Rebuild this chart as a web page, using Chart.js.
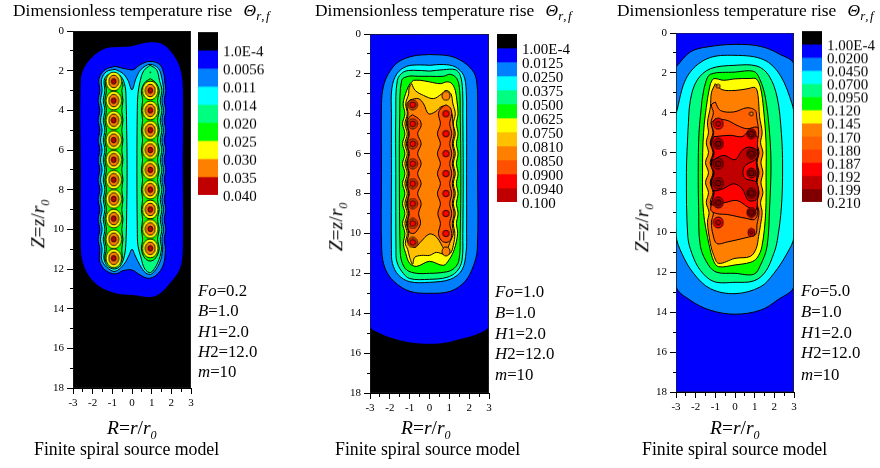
<!DOCTYPE html>
<html>
<head>
<meta charset="utf-8">
<script src="https://cdn.jsdelivr.net/npm/chart.js@4"></script>
<style>
body { margin: 0; background: #fff; width: 880px; height: 468px; overflow: hidden; }
canvas { position: absolute; }
.t { position: absolute; font-family: "Liberation Serif", serif; color: #000; white-space: nowrap; line-height: 1; }
.t sub { font-size: 62%; line-height: 0; }
</style>
</head>
<body>
<script>
// ---- legend cells and labels
var fo02Cells = ["#000000","#0000ff","#0080ff","#00ffff","#00ff80","#00ff00","#ffff00","#ff8000","#c00000"];
var fo02Labels = ["1.0E-4","0.0056","0.011","0.014","0.020","0.025","0.030","0.035","0.040"];
var fo1Cells = ["#000000","#0000ff","#0080ff","#00ffff","#00ff80","#00ff00","#ffff00","#ffc000","#ff8000","#ff5000","#ff0000","#c00000"];
var fo1Labels = ["1.00E-4","0.0125","0.0250","0.0375","0.0500","0.0625","0.0750","0.0810","0.0850","0.0900","0.0940","0.100"];
var fo5Cells = ["#000000","#0000ff","#0080ff","#00ffff","#00ff80","#00ff00","#ffff00","#ff8000","#ff6000","#ff4000","#ff0000","#c00000","#800000"];
var fo5Labels = ["1.00E-4","0.0200","0.0450","0.0700","0.0950","0.120","0.145","0.170","0.180","0.187","0.192","0.199","0.210"];

var rTicks = [-3,3];
var zTicks = [0,18];
var wholeField = [[-3,0],[3,0],[3,18],[-3,18]];

// ---- Fo=0.2 contours, [R, Z]
var fo02Blue = [[0,.77],[.92,.57],[1.6,.69],[2.1,1.2],[2.44,1.87],[2.58,2.8],[2.58,7],[2.58,11.04],[2.44,11.97],[1.93,12.72],[1.42,13.23],[.92,13.41],[.07,13.31],[-.78,13.23],[-1.63,12.89],[-2.22,12.3],[-2.53,11.55],[-2.6,10.87],[-2.6,7],[-2.6,2.45],[-2.39,1.78],[-1.88,1.19],[-1.29,.86],[-.61,.81]];
var fo02Sky = [[-.86,1.78],[-.27,1.92],[.07,1.95],[.41,1.7],[.92,1.53],[1.42,1.7],[1.63,2.2],[1.66,2.5],[1.72,3],[1.64,3.5],[1.72,4],[1.64,4.5],[1.72,5],[1.64,5.5],[1.72,6],[1.64,6.5],[1.72,7],[1.64,7.5],[1.72,8],[1.64,8.5],[1.72,9],[1.64,9.5],[1.72,10],[1.64,10.5],[1.7,11],[1.59,11.8],[1.25,12.3],[.83,12.47],[.41,12.3],[0,12.05],[-.44,12.08],[-.86,12.25],[-1.37,12.05],[-1.65,11.6],[-1.64,11],[-1.72,10.5],[-1.64,10],[-1.72,9.5],[-1.64,9],[-1.72,8.5],[-1.64,8],[-1.72,7.5],[-1.64,7],[-1.72,6.5],[-1.64,6],[-1.72,5.5],[-1.64,5],[-1.72,4.5],[-1.64,4],[-1.72,3.5],[-1.64,3],[-1.68,2.4],[-1.37,1.95]];
var fo02Cyan = [[-.86,1.93],[-.45,2.15],[-.2,2.5],[0,2.97],[.2,2.4],[.45,1.95],[.92,1.68],[1.35,1.9],[1.52,2.4],[1.6,3],[1.52,3.5],[1.6,4],[1.52,4.5],[1.6,5],[1.52,5.5],[1.6,6],[1.52,6.5],[1.6,7],[1.52,7.5],[1.6,8],[1.52,8.5],[1.6,9],[1.52,9.5],[1.6,10],[1.52,10.5],[1.56,11],[1.4,11.7],[1,12.25],[.7,12.2],[.4,11.8],[.15,11.3],[0,11],[-.15,11.3],[-.4,11.75],[-.86,12.12],[-1.3,11.9],[-1.55,11.5],[-1.52,11],[-1.6,10.5],[-1.52,10],[-1.6,9.5],[-1.52,9],[-1.6,8.5],[-1.52,8],[-1.6,7.5],[-1.52,7],[-1.6,6.5],[-1.52,6],[-1.6,5.5],[-1.52,5],[-1.6,4.5],[-1.52,4],[-1.6,3.5],[-1.52,3],[-1.55,2.45],[-1.3,2.05]];
var fo02SpringL = [[-.9,2.12],[-.55,2.3],[-.35,2.8],[-.3,3.5],[-.27,5],[-.25,7],[-.27,9],[-.3,10.5],[-.38,11.3],[-.6,11.85],[-.9,12],[-1.25,11.85],[-1.43,11.45],[-1.38,11],[-1.46,10.5],[-1.38,10],[-1.46,9.5],[-1.38,9],[-1.46,8.5],[-1.38,8],[-1.46,7.5],[-1.38,7],[-1.46,6.5],[-1.38,6],[-1.46,5.5],[-1.38,5],[-1.46,4.5],[-1.38,4],[-1.46,3.5],[-1.38,3],[-1.42,2.5],[-1.25,2.22]];
var fo02SpringR = [[.92,1.73],[1.25,1.95],[1.4,2.5],[1.52,3],[1.44,3.5],[1.52,4],[1.44,4.5],[1.52,5],[1.44,5.5],[1.52,6],[1.44,6.5],[1.52,7],[1.44,7.5],[1.52,8],[1.44,8.5],[1.52,9],[1.44,9.5],[1.52,10],[1.44,10.5],[1.5,11],[1.3,11.7],[.95,12.18],[.65,12],[.45,11.4],[.3,10.8],[.27,10],[.25,7],[.27,4],[.3,3.2],[.42,2.5],[.6,2]];
var fo02GreenL = [[-.93,2.18],[-.65,2.35],[-.46,2.7],[-.52,3],[-.46,3.5],[-.52,4],[-.46,4.5],[-.52,5],[-.46,5.5],[-.52,6],[-.46,6.5],[-.52,7],[-.46,7.5],[-.52,8],[-.46,8.5],[-.52,9],[-.46,9.5],[-.52,10],[-.46,10.5],[-.52,11],[-.5,11.45],[-.65,11.75],[-.93,11.88],[-1.2,11.75],[-1.38,11.45],[-1.3,11],[-1.38,10.5],[-1.3,10],[-1.38,9.5],[-1.3,9],[-1.38,8.5],[-1.3,8],[-1.38,7.5],[-1.3,7],[-1.38,6.5],[-1.3,6],[-1.38,5.5],[-1.3,5],[-1.38,4.5],[-1.3,4],[-1.38,3.5],[-1.3,3],[-1.36,2.55],[-1.2,2.3]];
var fo02GreenR = [[.93,2.4],[1.2,2.6],[1.38,3],[1.3,3.5],[1.38,4],[1.3,4.5],[1.38,5],[1.3,5.5],[1.38,6],[1.3,6.5],[1.38,7],[1.3,7.5],[1.38,8],[1.3,8.5],[1.38,9],[1.3,9.5],[1.38,10],[1.3,10.5],[1.38,11],[1.2,11.45],[.93,11.6],[.65,11.45],[.48,11],[.54,10.5],[.48,10],[.54,9.5],[.48,9],[.54,8.5],[.48,8],[.54,7.5],[.48,7],[.54,6.5],[.48,6],[.54,5.5],[.48,5],[.54,4.5],[.48,4],[.54,3.5],[.48,3],[.65,2.6]];
var fo02SourcesL = [[-.93,2.54],[-.93,3.51],[-.93,4.5],[-.93,5.5],[-.93,6.49],[-.93,7.5],[-.93,8.47],[-.93,9.46],[-.93,10.5],[-.93,11.46]];
var fo02SourcesR = [[.93,3],[.93,4],[.93,5],[.93,6],[.93,7],[.93,8],[.93,9],[.93,9.98],[.93,10.96]];
var fo02Dots = [[.93,2.08]];

// ---- Fo=1.0 contours
var fo1Blue = [[-3,.03],[3,.03],[3,14.6],[2.5,15],[1.5,15.3],[.6,15.5],[-.6,15.5],[-1.5,15.35],[-2.5,15],[-3,14.6]];
var fo1Sky = [[0,1.03],[1,1.1],[1.7,1.4],[2.25,1.95],[2.4,2.6],[2.43,3.5],[2.43,7],[2.41,10.8],[2.2,11.66],[1.8,12.4],[1.05,12.9],[0,13],[-1,12.9],[-1.8,12.4],[-2.24,11.75],[-2.41,10.8],[-2.42,7],[-2.42,3.5],[-2.33,2.66],[-2.07,1.99],[-1.57,1.4],[-.8,1.1]];
var fo1Cyan = [[0,1.57],[.7,1.53],[1.3,1.65],[1.72,2.07],[1.85,2.83],[1.87,4],[1.87,7],[1.87,10],[1.85,10.9],[1.64,11.83],[1.05,12.3],[0,12.45],[-1,12.42],[-1.57,12.08],[-1.87,11.5],[-1.92,10.8],[-1.92,7],[-1.92,4],[-1.9,2.74],[-1.65,2],[-1.15,1.62],[-.5,1.55]];
var fo1Spring = [[0,1.86],[.7,1.79],[1.3,1.79],[1.55,2.07],[1.67,2.83],[1.68,4],[1.7,7],[1.68,10],[1.64,11.35],[1.38,11.9],[.88,12.2],[0,12.3],[-1,12.26],[-1.4,11.9],[-1.65,11.4],[-1.69,10.8],[-1.7,7],[-1.7,4],[-1.62,2.32],[-1.3,1.9],[-.8,1.82]];
var fo1Green = [[0,2.12],[.7,2.12],[1.05,2.02],[1.38,2.24],[1.52,2.83],[1.55,4],[1.58,7],[1.55,10],[1.47,11.4],[1.13,11.83],[.54,11.97],[0,12],[-.64,12],[-1.15,11.83],[-1.4,11.4],[-1.48,10.8],[-1.52,7],[-1.5,4],[-1.4,2.32],[-1.06,2.12],[-.56,2.12]];
var fo1Yellow = [[-.8,2.32],[-.47,2.32],[0,2.4],[.54,2.49],[.88,2.4],[1.13,2.49],[1.3,2.83],[1.38,3.33],[1.44,4],[1.36,4.5],[1.44,5],[1.36,5.5],[1.44,6],[1.36,6.5],[1.44,7],[1.36,7.5],[1.44,8],[1.36,8.5],[1.44,9],[1.36,9.5],[1.42,10],[1.25,10.8],[1,11.3],[.7,11.6],[0,11.4],[-.65,11.65],[-1,11.5],[-1.2,11],[-1.32,10.5],[-1.24,10],[-1.36,9.5],[-1.24,9],[-1.36,8.5],[-1.24,8],[-1.36,7.5],[-1.24,7],[-1.36,6.5],[-1.24,6],[-1.36,5.5],[-1.24,5],[-1.36,4.5],[-1.24,4],[-1.33,3.5],[-1.15,2.83],[-.98,2.49]];
var fo1Amber = [[-.9,2.49],[-.72,2.83],[-.3,3.08],[.2,3.24],[.62,3],[.84,2.83],[1.08,3],[1.18,3.5],[1.3,4],[1.2,4.5],[1.3,5],[1.2,5.5],[1.3,6],[1.2,6.5],[1.3,7],[1.2,7.5],[1.3,8],[1.2,8.5],[1.3,9],[1.2,9.5],[1.28,10],[1.2,10.6],[1.05,11],[.75,11.05],[.35,10.95],[0,11.1],[-.4,11.1],[-.75,11.2],[-.85,11.55],[-1,11.2],[-1.1,10.8],[-1.22,10.5],[-1.12,10],[-1.24,9.5],[-1.12,9],[-1.24,8.5],[-1.12,8],[-1.24,7.5],[-1.12,7],[-1.24,6.5],[-1.12,6],[-1.24,5.5],[-1.12,5],[-1.24,4.5],[-1.12,4],[-1.2,3.5],[-1.05,3],[-1.03,2.7]];
var fo1Orange = [[-.98,3.3],[-.56,3.24],[-.3,3.5],[-.05,4],[.29,3.9],[.62,3.63],[.88,3.66],[1.13,4],[1.18,4.5],[1.24,5],[1.15,5.5],[1.24,6],[1.15,6.5],[1.24,7],[1.15,7.5],[1.24,8],[1.15,8.5],[1.24,9],[1.15,9.5],[1.2,10],[1.05,10.4],[.88,10.8],[.75,10.8],[.37,10.2],[0,10.03],[-.47,10.45],[-.72,10.7],[-.95,10.6],[-1.12,10.4],[-1.05,10],[-1.16,9.5],[-1.05,9],[-1.16,8.5],[-1.05,8],[-1.16,7.5],[-1.05,7],[-1.16,6.5],[-1.05,6],[-1.16,5.5],[-1.05,5],[-1.16,4.5],[-1.08,4],[-1.14,3.5]];
var fo1DeepL = [[-.85,4.05],[-.5,4.3],[-.42,4.6],[-.6,5],[-.42,5.5],[-.6,6],[-.42,6.5],[-.6,7],[-.42,7.5],[-.6,8],[-.42,8.5],[-.55,9],[-.45,9.5],[-.7,9.95],[-.85,10],[-1,9.95],[-1.12,9.5],[-1.02,9],[-1.12,8.5],[-1.02,8],[-1.12,7.5],[-1.02,7],[-1.12,6.5],[-1.02,6],[-1.12,5.5],[-1.02,5],[-1.12,4.5],[-1.05,4.2]];
var fo1DeepR = [[.83,3.55],[.6,3.7],[.45,4],[.55,4.5],[.4,5],[.55,5.5],[.4,6],[.55,6.5],[.4,7],[.55,7.5],[.4,8],[.55,8.5],[.42,9],[.55,9.5],[.45,10],[.6,10.35],[.83,10.45],[1.05,10.35],[1.12,10],[1.02,9.5],[1.12,9],[1.02,8.5],[1.12,8],[1.02,7.5],[1.12,7],[1.02,6.5],[1.12,6],[1.02,5.5],[1.12,5],[1.02,4.5],[1.12,4],[1.05,3.7]];
var fo1SourcesL = [[-.85,3.55],[-.85,4.5],[-.85,5.5],[-.85,6.5],[-.85,7.5],[-.85,8.5],[-.85,9.5],[-.85,10.45]];
var fo1SourcesR = [[.83,4],[.83,5],[.83,6],[.83,7],[.83,8],[.83,9],[.83,10]];
var fo1Small = [[.83,3.1],[.83,10.9]];

// ---- Fo=5.0 contours
var fo5Sky = [[-3,1.7],[-2.27,.95],[-1.42,.7],[0,.57],[1.29,.67],[2.22,1.04],[3,1.62],[3,12.65],[2.14,13.4],[1.29,13.9],[0,14.1],[-1.25,13.9],[-2.27,13.4],[-3,12.65]];
var fo5Cyan = [[-3,4.05],[-2.44,2.2],[-1.42,1.29],[0,1.12],[1.46,1.34],[2.3,2.12],[2.9,3.55],[3,4.13],[3.05,7],[3,10.22],[2.64,11.06],[1.97,12.06],[1.29,12.73],[0,13.07],[-1.25,12.82],[-2.1,12.06],[-2.7,11.06],[-3,10.14],[-3.05,7]];
var fo5Spring = [[-2.39,4.88],[-2.27,3.38],[-1.93,2.37],[-1.25,1.79],[0,1.62],[1.12,1.66],[1.71,2.12],[2.14,3.21],[2.36,5.05],[2.42,6.72],[2.36,8.73],[2.15,10.4],[1.97,11.06],[1.54,11.98],[.95,12.43],[0,12.5],[-1.08,12.46],[-1.76,11.9],[-2.19,11.06],[-2.4,10.2],[-2.47,7]];
var fo5Green = [[-1.68,3.38],[-1.51,2.54],[-1.25,2.07],[0,1.96],[.95,1.92],[1.25,2.29],[1.54,3.21],[1.76,5.05],[1.83,6.72],[1.76,8.73],[1.63,10.7],[1.29,11.65],[.95,12.1],[0,12.05],[-.92,12],[-1.34,11.65],[-1.76,10.7],[-1.85,8.7],[-1.87,7],[-1.83,5]];
var fo5Yellow = [[-1.25,2.54],[-1.08,2.29],[-.58,2.37],[0,2.3],[.78,2.28],[1.08,2.3],[1.3,2.75],[1.45,3.8],[1.58,5.5],[1.58,7],[1.56,9],[1.37,10.7],[1.12,11.28],[.78,11.5],[0,11.63],[-.83,11.72],[-1.08,11.45],[-1.32,10.6],[-1.6,9],[-1.65,7],[-1.6,5],[-1.4,3.3]];
var fo5Orange = [[-1,2.54],[-.66,2.84],[0,2.88],[.61,2.8],[1.03,2.74],[1.17,3.13],[1.25,4.2],[1.38,5],[1.3,5.5],[1.42,6],[1.32,6.5],[1.42,7],[1.32,7.5],[1.42,8],[1.3,8.5],[1.38,9],[1.3,9.6],[1.2,10.2],[1.08,10.8],[.78,11.2],[0,11.3],[-.83,11.55],[-1.08,11.15],[-1.25,10.56],[-1.4,9.5],[-1.32,9],[-1.46,8.5],[-1.35,8],[-1.5,7.5],[-1.35,7],[-1.5,6.5],[-1.35,6],[-1.46,5.5],[-1.35,5],[-1.4,4.5],[-1.25,3.7],[-1.2,3]];
var fo5Dark1 = [[-1,3.46],[-.75,3.88],[-.07,3.96],[.61,3.75],[1.03,3.88],[1.1,4.2],[1.2,5],[1.12,5.5],[1.22,6],[1.12,6.5],[1.22,7],[1.12,7.5],[1.22,8],[1.12,8.5],[1.22,9],[1.12,9.6],[1.05,10.1],[.61,10.25],[-.41,10.48],[-.92,10.56],[-1.12,10.1],[-1.2,9.5],[-1.1,9],[-1.26,8.5],[-1.12,8],[-1.26,7.5],[-1.12,7],[-1.26,6.5],[-1.12,6],[-1.26,5.5],[-1.12,5],[-1.22,4.5],[-1.1,4],[-1.2,3.6]];
var fo5Dark2 = [[-1,4.3],[-.4,4.38],[.1,4.63],[.6,4.8],[1.12,4.72],[1.2,5],[1.12,5.5],[1.18,6],[1.1,6.5],[1.18,7],[1.1,7.5],[1.18,8],[1.1,8.5],[1.16,9],[1,9.35],[.6,9.3],[.1,9.2],[-.4,9.1],[-.9,9.06],[-1.22,8.9],[-1.18,8.5],[-1.08,8],[-1.22,7.5],[-1.08,7],[-1.22,6.5],[-1.08,6],[-1.22,5.5],[-1.08,5],[-1.2,4.55]];
var fo5Red = [[-1.08,5.2],[-.24,5.13],[.36,5.2],[.69,4.96],[1.12,5.2],[1.14,5.6],[1.14,6],[1.08,6.5],[1.14,7],[1.08,7.5],[1.14,8],[1.14,8.5],[1.05,8.9],[.69,8.75],[.1,8.4],[-.5,8.5],[-.9,8.56],[-1.2,8.6],[-1.06,8],[-1.2,7.5],[-1.06,7],[-1.2,6.5],[-1.06,6],[-1.2,5.6]];
var fo5Crimson = [[-1.17,6.39],[-.58,6.14],[0,6.35],[.36,5.89],[.69,5.72],[1.12,5.89],[1.1,6.3],[.53,6.64],[.4,7],[.53,7.3],[1.1,7.5],[1.12,8.3],[.69,8.4],[.36,7.8],[-.07,7.56],[-.58,7.8],[-1.08,7.9],[-1.2,7.5],[-1.06,7],[-1.2,6.7]];
var fo5SourcesL = [[-.85,5.55],[-.85,6.55],[-.85,7.53],[-.85,8.5]];
var fo5SourcesR = [[.83,5.05],[.83,6.05],[.83,7.02],[.83,8.03],[.83,9]];
var fo5EndsL = [[-.85,4.55],[-.85,9.5]];
var fo5EndsR = [[.83,10]];
var fo5Small = [[-.85,2.67],[.83,4.05]];

// a little ellipse for the rings round each source
function ring(rx, ry, color) {
    var c = document.createElement("canvas");
    c.width = Math.ceil(rx * 2 + 2);
    c.height = Math.ceil(ry * 2 + 2);
    var g = c.getContext("2d");
    g.beginPath();
    g.ellipse(c.width / 2, c.height / 2, rx, ry, 0, 0, Math.PI * 2);
    g.fillStyle = color;
    g.fill();
    g.lineWidth = 0.9;
    g.strokeStyle = "#000";
    g.stroke();
    return c;
}

function toPoints(list) {
    return list.map(function (p) { return { x: p[0], y: p[1] }; });
}

function contour(list, color, noLine) {
    var pts = toPoints(list.concat([list[0]]));
    return {
        data: pts, showLine: true, fill: "shape", backgroundColor: color,
        borderColor: noLine ? color : "#000", borderWidth: noLine ? 0 : 1,
        tension: 0.35, pointRadius: 0
    };
}

function rings(list, img) {
    return { data: toPoints(list), showLine: false, pointStyle: img, pointRadius: 4 };
}

function addText(html, left, top, size, extra) {
    var d = document.createElement("div");
    d.className = "t";
    d.style.left = left + "px";
    d.style.top = top + "px";
    d.style.fontSize = size + "px";
    if (extra) d.style.transform = extra;
    d.innerHTML = html;
    document.body.appendChild(d);
}

function addCanvas(left, top, w, h) {
    var c = document.createElement("canvas");
    c.width = w; c.height = h;
    c.style.left = left + "px";
    c.style.top = top + "px";
    c.style.width = w + "px";
    c.style.height = h + "px";
    document.body.appendChild(c);
    return c;
}

function fieldChart(box, layers) {
    var w = box.right - box.left, h = box.bottom - box.top;
    var c = addCanvas(box.left - 35, box.top - 12, w + 47, h + 42);
    // first dataset is painted on top, so turn the paint order round
    var sets = layers.concat([{
        data: toPoints(wholeField.concat([wholeField[0]])), showLine: true, fill: false,
        borderColor: "#222", borderWidth: 1, pointRadius: 0
    }]).reverse();
    new Chart(c, {
        type: "scatter",
        data: { datasets: sets },
        options: {
            responsive: false, animation: false,
            layout: { autoPadding: false, padding: { left: 0, top: 12, right: 12, bottom: 0 } },
            plugins: { legend: { display: false }, tooltip: { enabled: false } },
            scales: {
                x: {
                    type: "linear", min: rTicks[0], max: rTicks[1],
                    afterFit: function (s) { s.height = 30; },
                    border: { color: "#000" },
                    grid: {
                        drawOnChartArea: false, tickLength: 6, tickColor: "#000",
                        tickBorderDash: function (ctx) { return Number.isInteger(ctx.tick.value) ? [] : [3, 3]; }
                    },
                    ticks: {
                        stepSize: 0.5, autoSkip: false, maxRotation: 0, padding: 3, color: "#000",
                        font: { family: "Liberation Serif", size: 11 },
                        callback: function (v) { return Number.isInteger(v) ? v : ""; }
                    }
                },
                y: {
                    type: "linear", min: zTicks[0], max: zTicks[1], reverse: true,
                    afterFit: function (s) { s.width = 35; },
                    border: { color: "#000" },
                    grid: {
                        drawOnChartArea: false, tickLength: 6, tickColor: "#000",
                        tickBorderDash: function (ctx) { return ctx.tick.value % 2 == 0 ? [] : [3, 3]; },
                        tickBorderDashOffset: function (ctx) { return ctx.tick.value % 2 == 0 ? 0 : 3; }
                    },
                    ticks: {
                        stepSize: 1, autoSkip: false, padding: 3, color: "#000",
                        font: { family: "Liberation Serif", size: 11 },
                        callback: function (v) { return v % 2 == 0 ? v : ""; }
                    }
                }
            }
        }
    });
}

function levelBar(left, top, bottom, cells, labels) {
    var c = addCanvas(left, top - 24, 90, bottom - top + 48);
    new Chart(c, {
        type: "bar",
        data: {
            labels: [""],
            datasets: cells.map(function (col) {
                return { data: [1], backgroundColor: col, barPercentage: 1, categoryPercentage: 1 };
            })
        },
        options: {
            responsive: false, animation: false,
            layout: { autoPadding: false, padding: { top: 24, bottom: 24, left: 0, right: 0 } },
            plugins: { legend: { display: false }, tooltip: { enabled: false } },
            scales: {
                x: { stacked: true, display: false },
                y: {
                    stacked: true, position: "right", min: 0, max: cells.length, reverse: true,
                    afterFit: function (s) { s.width = 70; },
                    border: { display: false },
                    grid: { display: false, drawTicks: false },
                    ticks: {
                        stepSize: 1, autoSkip: false, padding: 5, color: "#000", z: 1, labelOffset: 2,
                        font: { family: "Liberation Serif", size: 15 },
                        callback: function (v) { return v == 0 ? "" : labels[v - 1]; }
                    }
                }
            }
        }
    });
}

function panelText(p) {
    var th = '<i style="margin-left:7px">&Theta;</i><sub style="font-style:italic;font-size:13px;letter-spacing:1.5px">r,f</sub>';
    addText("Dimensionless temperature rise " + th, p.titleX, 2, 17.4);
    var rows = ["<i>Fo</i>=" + p.fo, "<i>B</i>=1.0", "<i>H</i>1=2.0", "<i>H</i>2=12.0", "<i>m</i>=10"];
    for (let a = 0; a < rows.length; a++) {
        addText(rows[a], p.noteX, p.noteY[a] - 8.5, 16.8);
    }
    addText('<i>R</i>=<i>r</i>/<i>r</i><sub><i>0</i></sub>', p.rX, 418, 19.5);
    addText("Finite spiral source model", p.modelX, 441, 17.8);
    addText('<i>Z</i>=<i>z</i>/<i>r</i><sub><i>0</i></sub>', p.zX, p.zY, 19.5, "translate(-50%,-50%) rotate(-90deg)");
}

// ---- panel Fo=0.2
fieldChart({ left: 73, right: 191, top: 31, bottom: 388 }, [
    contour(wholeField, fo02Cells[0], true),
    contour(fo02Blue, fo02Cells[1], true),
    contour(fo02Sky, fo02Cells[2]),
    contour(fo02Cyan, fo02Cells[3]),
    contour(fo02SpringL, fo02Cells[4]),
    contour(fo02SpringR, fo02Cells[4]),
    contour(fo02GreenL, fo02Cells[5]),
    contour(fo02GreenR, fo02Cells[5]),
    rings(fo02SourcesL, ring(7.8, 9.4, fo02Cells[6])),
    rings(fo02SourcesR, ring(7.8, 9.4, fo02Cells[6])),
    rings(fo02SourcesL, ring(5, 6.3, fo02Cells[7])),
    rings(fo02SourcesR, ring(5, 6.3, fo02Cells[7])),
    rings(fo02SourcesL, ring(2.4, 2.8, fo02Cells[8])),
    rings(fo02SourcesR, ring(2.4, 2.8, fo02Cells[8])),
    rings(fo02Dots, ring(0.4, 0.4, "#000"))
]);
levelBar(198, 32, 194.7, fo02Cells, fo02Labels);
panelText({ fo: "0.2", titleX: 13, noteX: 198, noteY: [291, 311, 332, 352, 372], rX: 107, modelX: 34, zX: 38, zY: 224 });

// ---- panel Fo=1.0
fieldChart({ left: 370, right: 489, top: 33.5, bottom: 393 }, [
    contour(wholeField, fo1Cells[0], true),
    contour(fo1Blue, fo1Cells[1], true),
    contour(fo1Sky, fo1Cells[2]),
    contour(fo1Cyan, fo1Cells[3]),
    contour(fo1Spring, fo1Cells[4]),
    contour(fo1Green, fo1Cells[5]),
    contour(fo1Yellow, fo1Cells[6]),
    contour(fo1Amber, fo1Cells[7]),
    contour(fo1Orange, fo1Cells[8]),
    contour(fo1DeepL, fo1Cells[9]),
    contour(fo1DeepR, fo1Cells[9]),
    rings(fo1Small, ring(4, 4.5, fo1Cells[8])),
    rings(fo1SourcesL, ring(4.8, 5, fo1Cells[9])),
    rings(fo1SourcesL, ring(3, 3, fo1Cells[10])),
    rings(fo1SourcesR, ring(3.2, 3.2, fo1Cells[10]))
]);
levelBar(497, 33.7, 202, fo1Cells, fo1Labels);
panelText({ fo: "1.0", titleX: 315, noteX: 495, noteY: [292, 313, 334, 354, 375], rX: 401, modelX: 335, zX: 336, zY: 227 });

// ---- panel Fo=5.0
fieldChart({ left: 675.7, right: 793.7, top: 32.7, bottom: 391.7 }, [
    contour(wholeField, fo5Cells[1], true),
    contour(fo5Sky, fo5Cells[2]),
    contour(fo5Cyan, fo5Cells[3]),
    contour(fo5Spring, fo5Cells[4]),
    contour(fo5Green, fo5Cells[5]),
    contour(fo5Yellow, fo5Cells[6]),
    contour(fo5Orange, fo5Cells[7]),
    contour(fo5Dark1, fo5Cells[8]),
    contour(fo5Dark2, fo5Cells[9]),
    contour(fo5Red, fo5Cells[10]),
    contour(fo5Crimson, fo5Cells[11]),
    rings(fo5Small, ring(2, 2, fo5Cells[7])),
    rings(fo5EndsL, ring(5, 5.5, fo5Cells[10])),
    rings(fo5EndsR, ring(3.5, 4, fo5Cells[10])),
    rings(fo5SourcesL, ring(5, 5.5, fo5Cells[11])),
    rings(fo5SourcesR, ring(4.5, 5, fo5Cells[11])),
    rings(fo5EndsL, ring(2.6, 2.6, fo5Cells[11])),
    rings(fo5EndsR, ring(1.6, 1.6, fo5Cells[11])),
    rings(fo5SourcesL, ring(3, 3, fo5Cells[12])),
    rings(fo5SourcesR, ring(3, 3, fo5Cells[12]))
]);
levelBar(802, 31, 201.7, fo5Cells, fo5Labels);
panelText({ fo: "5.0", titleX: 617, noteX: 801, noteY: [291, 312, 333, 353, 375], rX: 710, modelX: 642, zX: 642, zY: 228 });
</script>
</body>
</html>
